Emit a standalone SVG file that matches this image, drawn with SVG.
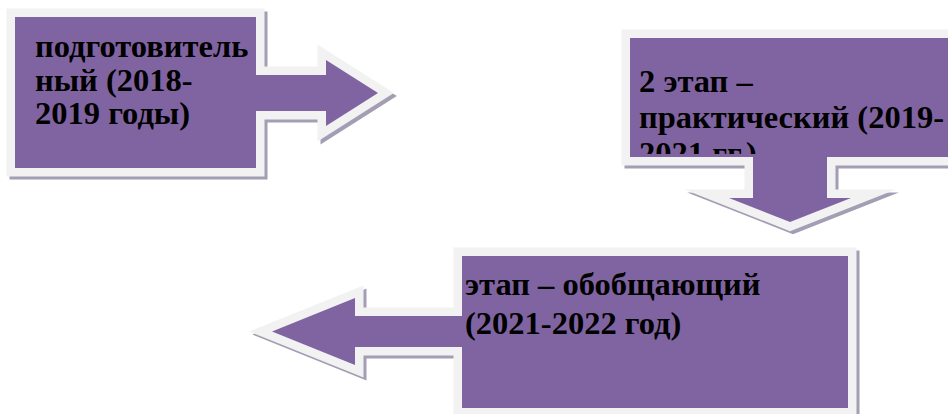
<svg xmlns="http://www.w3.org/2000/svg" xmlns:xlink="http://www.w3.org/1999/xlink" width="948" height="414" viewBox="0 0 948 414">
<style>
.shadow{fill:#A49EB4;stroke:#A49EB4;stroke-width:17;stroke-linejoin:miter;stroke-miterlimit:10}
.edge{fill:#F2F2F2;stroke:#F2F2F2;stroke-width:17;stroke-linejoin:miter;stroke-miterlimit:10}
.body{fill:#8064A2}
.label{font-family:"Liberation Serif","Times New Roman",serif;font-weight:bold;font-size:32.5px;fill:#000}
</style>
<defs>
<path id="p1" d="M15,17 H256 V75 H326 V60 L378,93 L326,126 V111 H256 V168 H15 Z"/>
<path id="p2" d="M630,38 H975 V157 H827 V198 H851 L790,222 L729,198 H753 V157 H630 Z"/>
<path id="p3" d="M462,256 H848 V408 H462 V347 H355 V365 L272,331.5 L355,298 V316 H462 Z"/>
<clipPath id="clip2"><rect x="630" y="38" width="330" height="116"/></clipPath>
</defs>
<rect width="948" height="414" fill="#fff"/>
<g id="connectors"/>
<g id="stage1">
<use xlink:href="#p1" class="shadow" transform="translate(3,3)"/>
<use xlink:href="#p1" class="edge"/>
<use xlink:href="#p1" class="body"/>
<text class="label" x="35" y="57">подготовитель</text>
<text class="label" x="35" y="91">ный (2018-</text>
<text class="label" x="35" y="124">2019 годы)</text>
</g>
<g id="stage2">
<use xlink:href="#p2" class="shadow" transform="translate(3,3)"/>
<use xlink:href="#p2" class="edge"/>
<use xlink:href="#p2" class="body"/>
<g clip-path="url(#clip2)">
<text class="label" x="639" y="92">2 этап –</text>
<text class="label" x="639" y="128">практический (2019-</text>
<text class="label" x="639" y="164">2021 гг.)</text>
</g>
</g>
<g id="stage3">
<use xlink:href="#p3" class="shadow" transform="translate(3,3)"/>
<use xlink:href="#p3" class="edge"/>
<use xlink:href="#p3" class="body"/>
<text class="label" x="465" y="295">этап – обобщающий</text>
<text class="label" x="465" y="334">(2021-2022 год)</text>
</g>
</svg>
